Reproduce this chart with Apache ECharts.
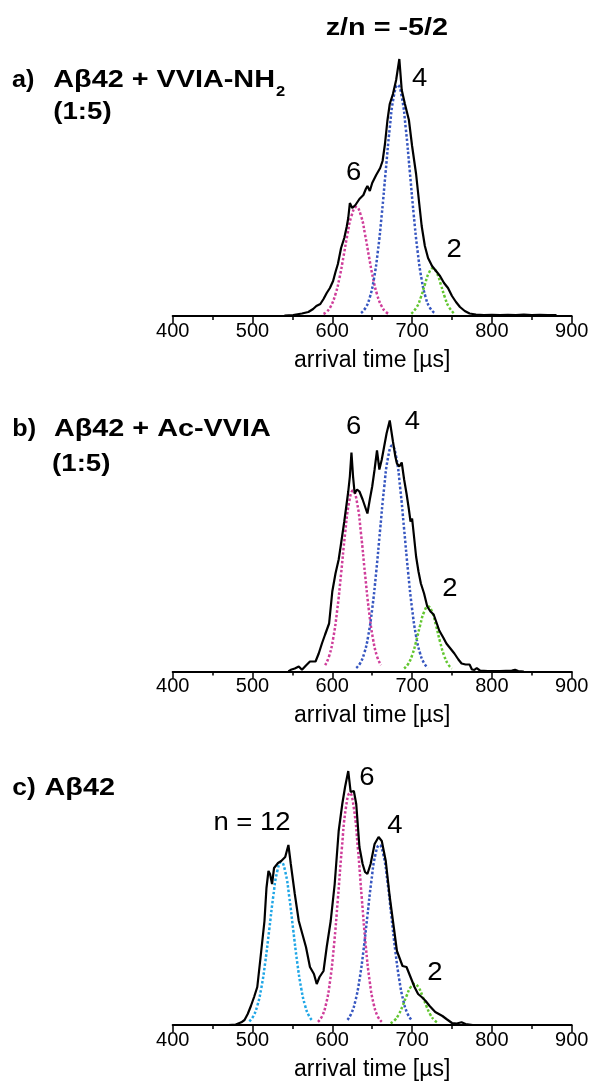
<!DOCTYPE html>
<html>
<head>
<meta charset="utf-8">
<script src="https://cdn.jsdelivr.net/npm/echarts@6/dist/echarts.min.js"></script>
<style>
html,body{margin:0;padding:0;background:#fff;}
#chart{width:593px;height:1082px;}
</style>
</head>
<body>
<div id="chart"></div>
<script>
// ---------- data (arrival time [µs], intensity [a.u.]) ----------
const xTicks = [400, 500, 600, 700, 800, 900];
const axisTitle = 'arrival time [µs]';

// panel a) Aβ42 + VVIA-NH2 (1:5)
const traceA = [[540,0.5],[551,1],[562,2.5],[570,4],[576,7],[580,10],[585,12],[589,17],[593,23],[597,28],[601,35],[604,44],[607,52],[611,68],[615,78],[618,89],[620,98],[622,113],[625,108],[629,111],[634,117],[639,121],[642,127],[644,130],[647,125],[650,133],[655,141],[660,148],[663,155],[666,172],[669,195],[672,212],[676,222],[680,236],[684,257],[687,226],[691,212],[696,196],[700,170],[705,142],[709,112],[712,90],[716,70],[720,58],[725,50],[730,45],[735,40],[740,33],[745,28],[750,20],[755,14],[760,9],[766,5],[772,2.5],[780,1.5],[790,1],[800,1.2],[810,0.8],[820,1.2],[830,0.8],[840,1.5],[850,0.8],[860,1.2],[870,0.8],[881,1]];
const fitA6 = [[589,2],[593,4.2],[598,9.5],[604,21.8],[609,38.1],[614,59.2],[619,81.7],[624,100],[630,109],[636,100],[641,81.7],[646,59.2],[651,38.1],[656,21.8],[662,9.5],[667,4.2],[671,2]];
const fitA4 = [[636,3],[642,8.6],[647,18.6],[652,36.3],[657,64],[662,101.6],[667,145.5],[672,188],[677,219.4],[682,231],[687,219.4],[692,188],[697,145.5],[702,101.6],[707,64],[712,36.3],[717,18.6],[722,8.6],[728,3]];
const fitA2 = [[699,2.3],[706,9.1],[711,18.8],[716,31.5],[721,43],[726,47.7],[731,43],[736,31.5],[741,18.8],[746,9.1],[753,2.3]];

// panel b) Aβ42 + Ac-VVIA (1:5)
const traceB = [[545,0],[548,1.7],[553,3],[558,5],[562,1.7],[567,6],[572,10],[579,10],[583,18],[587,28],[591,37],[596,48],[600,80],[604,98],[608,112],[611,128],[615,150],[620,180],[622,195],[624,219],[626,195],[628,178],[631,182],[634,180],[638,172],[641,165],[644,158],[647,172],[650,185],[653,202],[656,221],[659,202],[662,212],[665,225],[668,238],[672,251],[676,230],[679,215],[681,208],[684,205],[687,209],[690,192],[693,178],[696,162],[698,150],[700,153],[702,138],[705,115],[708,100],[711,88],[715,78],[719,65],[723,60],[727,57],[731,48],[734,41],[739,34],[743,28],[748,23],[753,18],[758,12],[762,8],[767,7],[772,7],[775,2],[778,1.7],[781,3.3],[785,1],[795,0.5],[810,0.5],[825,1],[829,1.7],[833,0.5],[840,0]];
const fitB6 = [[591,6.3],[596,15.3],[601,32.6],[606,60.4],[611,97.6],[616,137.6],[621,169],[626,181],[631,169],[636,137.6],[641,97.6],[646,60.4],[651,32.6],[656,15.3],[661,6.3]];
const fitB4 = [[630,3.5],[635,8.4],[640,18.2],[645,35.5],[650,62.6],[655,99.4],[660,142.4],[665,184],[670,214.7],[675,226],[680,214.7],[685,184],[690,142.4],[695,99.4],[700,62.6],[705,35.5],[710,18.2],[715,8.4],[720,3.5]];
const fitB2 = [[690,2.9],[695,7.4],[700,16.2],[705,29.8],[710,46],[715,59.6],[720,65],[725,59.6],[730,46],[735,29.8],[740,16.2],[745,7.4],[750,2.9]];

// panel c) Aβ42
const traceC = [[470,0],[479,0.5],[486,2.7],[490,5],[494,11],[498,19],[502,28],[506,38],[510,67],[515,104],[517.5,137],[520,154],[522,151],[524.5,141],[527,157],[532,162],[536,164],[541,168],[545,180],[548,161],[553,131],[558,104],[562.5,91],[567,78],[572,58],[577,51],[580.5,41],[584,48],[589,54],[593,78],[598,104],[603,141],[608,194],[612.5,221],[616,238],[620,254],[623,233],[627,234],[630,221],[634,178],[638,161],[641,153],[644,151],[648,161],[653,181],[658,188],[662,184],[667,164],[672,128],[677,98],[681,74],[688,59],[693,58],[698,48],[703,38],[707.5,31],[712,28],[717,24],[722,19],[729,13],[738,9],[743,6],[750,2],[756,1.5],[762,2.7],[767,1],[776,0]];
const fitC12 = [[496,3.6],[501,8.8],[506,19.1],[511,36.8],[516,62.9],[521,95.4],[526,128.5],[531,153.6],[536,163],[541,153.6],[546,128.5],[551,95.4],[556,62.9],[561,36.8],[566,19.1],[571,8.8],[576,3.6]];
const fitC6 = [[582,3.1],[587,8.5],[592,20.4],[597,42.9],[602,78.7],[607,126.3],[612,177],[617,216.9],[622,232],[627,216.9],[632,177],[637,126.3],[642,78.7],[647,42.9],[652,20.4],[657,8.5],[662,3.1]];
const fitC4 = [[619,5.1],[624,11.8],[629,24.4],[634,44.9],[639,74],[644,109.2],[649,144.2],[654,170.3],[659,180],[664,170.3],[669,144.2],[674,109.2],[679,74],[684,44.9],[689,24.4],[694,11.8],[699,5.1]];
const fitC2 = [[673,1.8],[678,4.7],[683,10.2],[688,18.8],[693,29],[698,37.6],[703,41],[708,37.6],[713,29],[718,18.8],[723,10.2],[728,4.7],[733,1.8]];

// ---------- layout / style ----------
const FONT = "'Liberation Sans', Arial, Helvetica, sans-serif";
const COLORS = { n12: '#1fa6e6', n6: '#cf3d9a', n4: '#3656c0', n2: '#62c62f', trace: '#000000' };
const gridTops = [56, 411.5, 765];
const GRID_H = 260;
const YMAX = 260;

const panels = [
  { trace: traceA, fits: [[fitA6, COLORS.n6], [fitA4, COLORS.n4], [fitA2, COLORS.n2]] },
  { trace: traceB, fits: [[fitB6, COLORS.n6], [fitB4, COLORS.n4], [fitB2, COLORS.n2]] },
  { trace: traceC, fits: [[fitC12, COLORS.n12], [fitC6, COLORS.n6], [fitC4, COLORS.n4], [fitC2, COLORS.n2]] }
];

const grids = [], xAxes = [], yAxes = [], series = [];
panels.forEach((p, i) => {
  grids.push({ left: 172.7, width: 399, top: gridTops[i], height: GRID_H, containLabel: false });
  xAxes.push({
    type: 'value', gridIndex: i,
    min: xTicks[0], max: xTicks[xTicks.length - 1], interval: xTicks[1] - xTicks[0],
    axisLine: { show: true, onZero: false, lineStyle: { color: '#000', width: 2 } },
    axisTick: { show: true, length: 7, lineStyle: { color: '#000', width: 1.5 } },
    minorTick: { show: true, splitNumber: 2, length: 4, lineStyle: { color: '#000', width: 1.5 } },
    splitLine: { show: false },
    axisLabel: { color: '#000', fontSize: 20, fontFamily: FONT, margin: 5 },
    name: axisTitle, nameLocation: 'middle', nameGap: 33,
    nameTextStyle: { color: '#000', fontSize: 23, fontFamily: FONT }
  });
  yAxes.push({ type: 'value', gridIndex: i, min: 0, max: YMAX, show: false });
  p.fits.forEach(([d, c]) => {
    series.push({
      type: 'line', xAxisIndex: i, yAxisIndex: i, data: d, smooth: true,
      showSymbol: false, silent: true,
      lineStyle: { color: c, width: 2.5, type: [2.5, 2] }, z: 2
    });
  });
  series.push({
    type: 'line', xAxisIndex: i, yAxisIndex: i, data: p.trace, smooth: false,
    showSymbol: false, silent: true,
    lineStyle: { color: COLORS.trace, width: 2.2 }, z: 3
  });
});

function txt(text, x, y, size, bold, align, sx) {
  return {
    type: 'text', x: x, y: y, scaleX: sx || 1, z: 10,
    style: {
      text: text, fill: '#000', align: align || 'left', verticalAlign: 'middle',
      font: (bold ? 'bold ' : '') + size + 'px ' + FONT
    }
  };
}

const B = 24, BS = 1.2;   // bold titles
const R = 25, RS = 1.1;   // peak labels
const graphic = [
  txt('z/n = -5/2', 386.9, 28, B, true, 'center', BS),
  // a
  txt('a)', 12, 80.7, B, true, 'left', 1.05),
  txt('Aβ42 + VVIA-NH', 53.3, 80.7, B, true, 'left', BS),
  txt('2', 280.5, 92, 15, true, 'center', 1.1),
  txt('(1:5)', 53.3, 112.1, B, true, 'left', 1.15),
  txt('6', 353.6, 172.7, R, false, 'center', RS),
  txt('4', 419.6, 79.3, R, false, 'center', RS),
  txt('2', 454.1, 250.3, R, false, 'center', RS),
  // b
  txt('b)', 12.3, 429.7, B, true, 'left', 1.05),
  txt('Aβ42 + Ac-VVIA', 53.9, 429.7, B, true, 'left', BS),
  txt('(1:5)', 52.1, 464.7, B, true, 'left', 1.15),
  txt('6', 353.6, 427, R, false, 'center', RS),
  txt('4', 412.4, 421.7, R, false, 'center', RS),
  txt('2', 450, 589.3, R, false, 'center', RS),
  // c
  txt('c)', 12.3, 788.1, B, true, 'left', 1.1),
  txt('Aβ42', 44.5, 788.1, B, true, 'left', BS),
  txt('n = 12', 252, 822.7, R, false, 'center', RS),
  txt('6', 367, 777.7, R, false, 'center', RS),
  txt('4', 395, 826, R, false, 'center', RS),
  txt('2', 434.8, 972.7, R, false, 'center', RS)
];

const chart = echarts.init(document.getElementById('chart'), null, { renderer: 'canvas' });
chart.setOption({
  animation: false,
  backgroundColor: '#fff',
  grid: grids, xAxis: xAxes, yAxis: yAxes, series: series, graphic: graphic
});
</script>
</body>
</html>
